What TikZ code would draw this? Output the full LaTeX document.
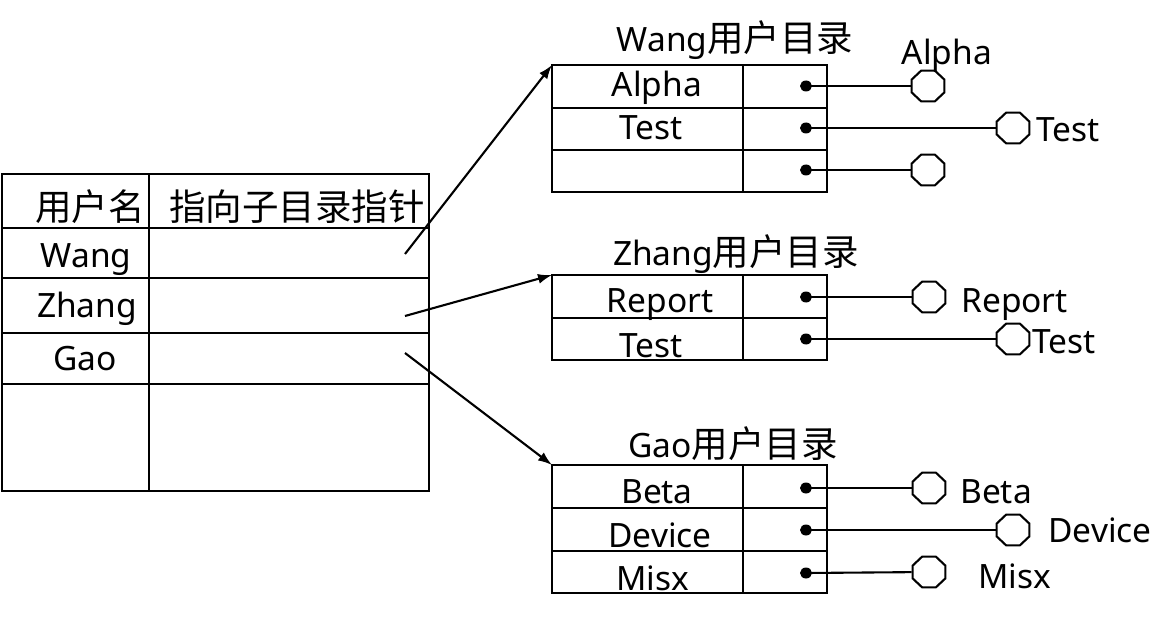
\documentclass[tikz,border=0pt]{standalone}
\usepackage{fontspec}
\setmainfont{Noto Sans}
\newfontfamily\cjk{Noto Sans CJK SC}
\usetikzlibrary{shapes.geometric,arrows.meta}
\begin{document}
\begin{tikzpicture}[x=1pt,y=-1pt,line width=2.6pt,
  txt/.style={font=\fontsize{33.5}{40}\selectfont,inner sep=0,anchor=base},
  cjt/.style={txt,font=\fontsize{36.5}{40}\selectfont\cjk},
  lbl/.style={txt,anchor=base west},
  oct/.style={draw,regular polygon,regular polygon sides=8,minimum size=35.5pt,inner sep=0,line width=2.1pt,yscale=0.94},
  dotn/.style={ellipse,fill,inner sep=0,minimum width=12pt,minimum height=11pt},
  link/.style={line width=2.1pt},
  ptr/.style={line width=2.1pt,-{Latex[length=14pt,width=10pt]}}]
\useasboundingbox (0,0) rectangle (1176,623);

% ---- left table ----
\draw (2,174) rectangle (429,491);
\draw (149,174) -- (149,491);
\foreach \yy in {228,278,333,384} \draw (2,\yy) -- (429,\yy);
\node[cjt] (h1) at (90,221) {用户名};
\node[cjt] (h2) at (297,221) {指向子目录指针};
\node[txt] (u1) at (86,267) {Wang};
\node[txt] (u2) at (87,317) {Zhang};
\node[txt] (u3) at (85,370) {Gao};
\coordinate (s1) at (405,254);
\coordinate (s2) at (405,316);
\coordinate (s3) at (405,353);

% ---- Wang table ----
\coordinate (wNW) at (552,65);
\draw (wNW) rectangle (827,192);
\draw (743,65) -- (743,192);
\foreach \yy in {108,150} \draw (552,\yy) -- (827,\yy);
\node[txt] (wt) at (735,52) {Wang{\fontsize{36.5}{40}\selectfont\cjk 用户目录}};
\node[txt] (w1) at (657,97) {Alpha};
\node[txt] (w2) at (651,140) {Test};
\node[dotn] (wd1) at (806,86) {};
\node[dotn] (wd2) at (806,128) {};
\node[dotn] (wd3) at (806,170) {};
\node[oct] (wo1) at (928,86) {};
\node[oct] (wo2) at (1013,128) {};
\node[oct] (wo3) at (928,170) {};
\draw[link] (wd1.center) -- (wo1);
\draw[link] (wd2.center) -- (wo2);
\draw[link] (wd3.center) -- (wo3);
\node[txt] (wl1) at (947,65) {Alpha};
\node[lbl] (wl2) at (1035,142) {Test};

% ---- Zhang table ----
\coordinate (zNW) at (552,275);
\draw (zNW) rectangle (827,360);
\draw (743,275) -- (743,360);
\draw (552,318) -- (827,318);
\node[txt] (zt) at (736,265) {Zhang{\fontsize{36.5}{40}\selectfont\cjk 用户目录}};
\node[txt] (z1) at (660,312) {Report};
\node[txt] (z2) at (651,357) {Test};
\node[dotn] (zd1) at (806,297) {};
\node[dotn] (zd2) at (806,339) {};
\node[oct] (zo1) at (929,297) {};
\node[oct] (zo2) at (1013,339) {};
\draw[link] (zd1.center) -- (zo1);
\draw[link] (zd2.center) -- (zo2);
\node[lbl] (zl1) at (960,312) {Report};
\node[lbl] (zl2) at (1031,353) {Test};

% ---- Gao table ----
\coordinate (gNW) at (552,465);
\draw (gNW) rectangle (827,593);
\draw (743,465) -- (743,593);
\foreach \yy in {508,551} \draw (552,\yy) -- (827,\yy);
\node[txt] (gt) at (733,457) {Gao{\fontsize{36.5}{40}\selectfont\cjk 用户目录}};
\node[txt] (g1) at (657,503) {Beta};
\node[txt] (g2) at (660,547) {Device};
\node[txt] (g3) at (653,590) {Misx};
\node[dotn] (gd1) at (806,488) {};
\node[dotn] (gd2) at (806,530) {};
\node[dotn] (gd3) at (806,573) {};
\node[oct] (go1) at (929,488) {};
\node[oct] (go2) at (1013,530) {};
\node[oct] (go3) at (929,572) {};
\draw[link] (gd1.center) -- (go1);
\draw[link] (gd2.center) -- (go2);
\draw[link] (gd3.center) -- (go3);
\node[lbl] (gl1) at (959,503) {Beta};
\node[lbl] (gl2) at (1047,542) {Device};
\node[lbl] (gl3) at (977,588) {Misx};

% ---- pointers ----
\draw[ptr] (s1) -- (wNW);
\draw[ptr] (s2) -- (zNW);
\draw[ptr] (s3) -- (gNW);
\end{tikzpicture}
\end{document}
